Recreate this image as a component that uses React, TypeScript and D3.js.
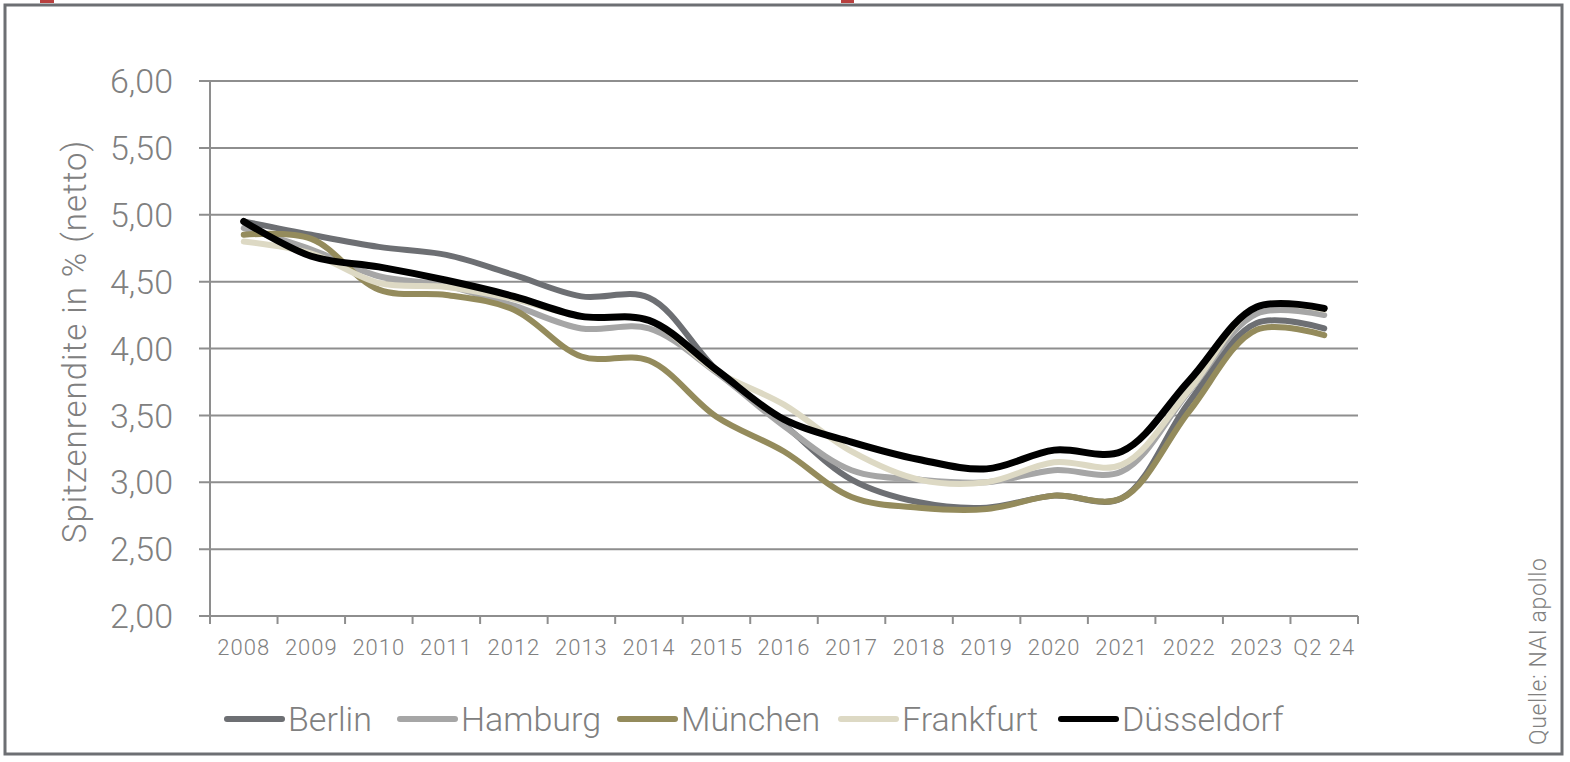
import React from "react";
import * as d3 from "d3";

const categories = [
  "2008", "2009", "2010", "2011", "2012", "2013", "2014", "2015", "2016",
  "2017", "2018", "2019", "2020", "2021", "2022", "2023", "Q2 24",
];

const berlin = [4.95, 4.85, 4.76, 4.7, 4.55, 4.39, 4.38, 3.84, 3.43, 3.02, 2.85, 2.81, 2.9, 2.88, 3.6, 4.19, 4.15];
const hamburg = [4.9, 4.74, 4.54, 4.47, 4.32, 4.15, 4.15, 3.82, 3.42, 3.09, 3.02, 3.0, 3.09, 3.08, 3.68, 4.26, 4.25];
const muenchen = [4.85, 4.82, 4.44, 4.4, 4.29, 3.94, 3.91, 3.49, 3.23, 2.89, 2.81, 2.8, 2.9, 2.88, 3.53, 4.14, 4.1];
const frankfurt = [4.8, 4.71, 4.49, 4.46, 4.37, 4.24, 4.21, 3.83, 3.58, 3.23, 3.02, 3.0, 3.15, 3.13, 3.69, 4.31, 4.29];
const duesseldorf = [4.95, 4.69, 4.61, 4.51, 4.39, 4.24, 4.21, 3.84, 3.47, 3.3, 3.17, 3.1, 3.24, 3.23, 3.76, 4.31, 4.3];

const seriesNames = ["Berlin", "Hamburg", "München", "Frankfurt", "Düsseldorf"];
const seriesValues = [berlin, hamburg, muenchen, frankfurt, duesseldorf];
const seriesColors = ["#6d6f73", "#a6a6a6", "#948b5c", "#ddd9c4", "#000000"];

const yTicks = [2, 2.5, 3, 3.5, 4, 4.5, 5, 5.5, 6];

const W = 1570;
const H = 762;
const margin = { top: 81, right: 212, bottom: 146, left: 210 };
const font = "Roboto, 'Liberation Sans', Arial, sans-serif";
const textColor = "#808080";
const gridColor = "#8e8e8e";

// legend swatch start x for each item
const legendX = [224, 397, 617, 838, 1058];

const App: React.FC = () => {
  const x = d3
    .scaleBand()
    .domain(categories)
    .range([margin.left, W - margin.right])
    .paddingInner(0)
    .paddingOuter(0);
  const y = d3
    .scaleLinear()
    .domain([2, 6])
    .range([H - margin.bottom, margin.top]);

  const cx = (c: string) => (x(c) ?? 0) + x.bandwidth() / 2;
  const line = d3
    .line<number>()
    .x((_, i) => cx(categories[i]))
    .y((d) => y(d))
    .curve(d3.curveCatmullRom.alpha(0.5));

  const x0 = margin.left;
  const x1 = W - margin.right;
  const y0 = H - margin.bottom;

  return (
    <svg
      width={W}
      height={H}
      style={{ position: "absolute", left: 0, top: 0, background: "#fff" }}
    >
      {/* red marks on top edge */}
      <rect x={40} y={0} width={14} height={3} fill="#b8403f" />
      <rect x={841} y={0} width={13} height={3} fill="#b8403f" />
      {/* frame */}
      <rect x={5} y={5} width={1557} height={749} fill="none" stroke="#6d6f73" strokeWidth={3} />

      {/* gridlines */}
      {yTicks.slice(1).map((t) => (
        <line key={t} x1={x0 - 11} x2={x1} y1={y(t)} y2={y(t)} stroke={gridColor} strokeWidth={2} />
      ))}
      {/* axes */}
      <line x1={x0} x2={x0} y1={y(6)} y2={y0 + 8} stroke={gridColor} strokeWidth={2} />
      <line x1={x0 - 11} x2={x1} y1={y0} y2={y0} stroke={gridColor} strokeWidth={2} />
      {categories.map((c) => (
        <line key={c} x1={x(c)! + x.bandwidth()} x2={x(c)! + x.bandwidth()} y1={y0} y2={y0 + 8} stroke={gridColor} strokeWidth={2} />
      ))}

      {/* y tick labels */}
      {yTicks.map((t) => (
        <text
          key={t}
          x={173}
          y={y(t)}
          dy="0.36em"
          textAnchor="end"
          fontFamily={font}
          fontWeight={300}
          fontSize={34}
          fill={textColor}
        >
          {t.toFixed(2).replace(".", ",")}
        </text>
      ))}
      {/* x tick labels */}
      {categories.map((c) => (
        <text
          key={c}
          x={cx(c)}
          y={655}
          textAnchor="middle"
          fontFamily={font}
          fontWeight={300}
          fontSize={22}
          letterSpacing={1}
          fill={textColor}
        >
          {c}
        </text>
      ))}

      {/* y axis title */}
      <text
        transform={`translate(86, ${(y(6) + y0) / 2 - 7}) rotate(-90)`}
        textAnchor="middle"
        fontFamily={font}
        fontWeight={300}
        fontSize={33}
        letterSpacing={1}
        fill={textColor}
      >
        Spitzenrendite in % (netto)
      </text>

      {/* series */}
      {seriesValues.map((vals, i) => (
        <path
          key={seriesNames[i]}
          d={line(vals) ?? ""}
          fill="none"
          stroke={seriesColors[i]}
          strokeWidth={i === 4 ? 7 : 6}
          strokeLinecap="round"
          strokeLinejoin="round"
        />
      ))}

      {/* legend */}
      {seriesNames.map((n, i) => (
        <g key={n}>
          <line
            x1={legendX[i] + 3}
            x2={legendX[i] + 58}
            y1={719}
            y2={719}
            stroke={seriesColors[i]}
            strokeWidth={6}
            strokeLinecap="round"
          />
          <text
            x={legendX[i] + 64}
            y={731}
            fontFamily={font}
            fontWeight={300}
            fontSize={34}
            fill={textColor}
          >
            {n}
          </text>
        </g>
      ))}

      {/* source */}
      <text
        transform="translate(1546, 745) rotate(-90)"
        textAnchor="start"
        fontFamily={font}
        fontWeight={300}
        fontSize={23}
        letterSpacing={0.6}
        fill={textColor}
      >
        Quelle: NAI apollo
      </text>
    </svg>
  );
};

export default App;
